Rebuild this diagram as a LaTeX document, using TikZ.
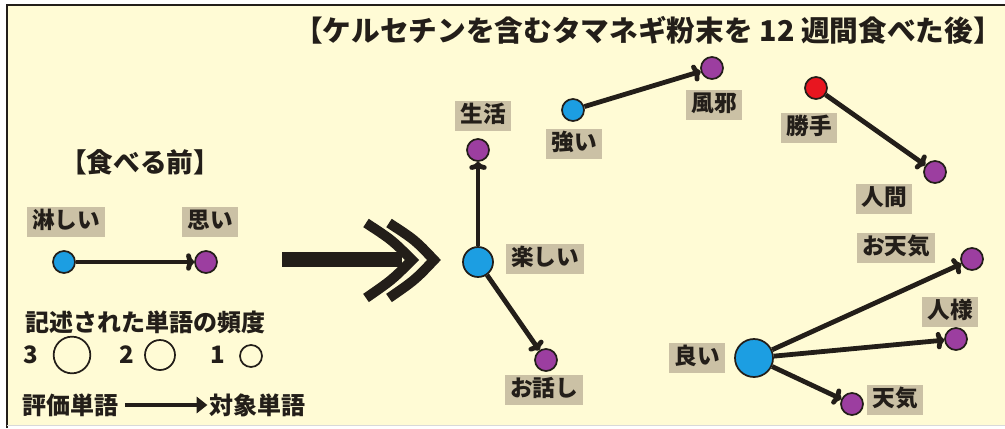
\documentclass[tikz,border=0pt]{standalone}
\usepackage{fontspec}
\setmainfont{Noto Sans CJK JP}
\usetikzlibrary{arrows.meta}
\definecolor{bg}{RGB}{255,251,213}
\definecolor{tagc}{RGB}{203,193,165}
\definecolor{evblue}{RGB}{28,158,226}
\definecolor{tgpurple}{RGB}{156,62,160}
\definecolor{negred}{RGB}{232,22,32}
\definecolor{ink}{RGB}{35,30,25}
\tikzset{
  word/.style={fill=tagc,inner xsep=4pt,inner ysep=3.5pt,text=ink,
    font=\fontsize{17}{17}\selectfont\bfseries,text height=13pt,text depth=3pt},
  plain/.style={text=ink,inner sep=1pt,font=\fontsize{18}{18}\selectfont\bfseries},
  dot/.style={circle,draw=ink,line width=1.3pt,inner sep=0pt},
  f1/.style={dot,minimum size=16.5pt},
  f2/.style={dot,minimum size=22.5pt},
  f3/.style={dot,minimum size=28.5pt},
  link/.style={draw=ink,line width=3.6pt,-{To[length=6pt,width=13pt]}}
}
\begin{document}
\begin{tikzpicture}[x=0.75pt,y=-0.75pt]
\useasboundingbox (0,0) rectangle (1005,428);
\fill[white] (0,0) rectangle (1005,428);
\fill[bg] (7,5) rectangle (1005,425);
\draw[ink,line width=2pt] (7,428)--(7,5)--(1005,5);
\draw[black!15,line width=1pt] (7,425.5)--(1005,425.5);
% title
\node[plain,font=\fontsize{21.5}{21.5}\selectfont\bfseries] (title) at (648,30) {【ケルセチンを含むタマネギ粉末を 12 週間食べた後】};
% before
\node[plain,font=\fontsize{20}{20}\selectfont\bfseries] (before) at (140,162) {【食べる前】};
\node[word] (sabishii) at (66,222) {淋しい};
\node[word] (omoi) at (210,222) {思い};
\node[f1,fill=evblue] (n-sabishii) at (64,262) {};
\node[f1,fill=tgpurple] (n-omoi) at (206,262) {};
\draw[link] (n-sabishii)--(n-omoi);
% legend
\node[plain] (freq) at (145,322) {記述された単語の頻度};
\node[plain] (k3) at (31,355) {3};
\node[dot,minimum size=27.5pt] (c3) at (72,355) {};
\node[plain] (k2) at (127,355) {2};
\node[dot,minimum size=22.5pt] (c2) at (160,355) {};
\node[plain] (k1) at (218,355) {1};
\node[dot,minimum size=16.5pt] (c1) at (251,356) {};
\node[plain] (hyoka) at (70,405) {評価単語};
\node[plain] (taisho) at (257,405) {対象単語};
\draw[ink,line width=3.6pt,shorten <=4pt,-{Triangle[length=8pt,width=12pt]}] (hyoka)--(taisho);
% big arrow
\fill[ink] (282,252) rectangle (402,267);
\draw[ink,line width=7.5pt] (366,223) .. controls (392,240) .. (412,260) .. controls (392,280) .. (366,298);
\draw[ink,line width=7.5pt] (389,223) .. controls (415,240) .. (434,260) .. controls (415,280) .. (389,298);
% after
\node[f2,fill=evblue] (n-tanoshii) at (478,262) {};
\node[word] (tanoshii) at (545,259) {楽しい};
\node[f1,fill=tgpurple] (n-seikatsu) at (478,150) {};
\node[word] (seikatsu) at (483,116) {生活};
\node[f1,fill=tgpurple] (n-ohanashi) at (546,360) {};
\node[word] (ohanashi) at (544,390) {お話し};
\draw[link] (n-tanoshii)--(n-seikatsu);
\draw[link] (n-tanoshii)--(n-ohanashi);
\node[f1,fill=evblue] (n-tsuyoi) at (573,110) {};
\node[word] (tsuyoi) at (574,144) {強い};
\node[f1,fill=tgpurple] (n-kaze) at (712,68) {};
\node[word] (kaze) at (714,105) {風邪};
\draw[link] (n-tsuyoi)--(n-kaze);
\node[f1,fill=negred] (n-katte) at (816,88) {};
\node[word] (katte) at (809,128) {勝手};
\node[f1,fill=tgpurple] (n-ningen) at (935,172) {};
\node[word] (ningen) at (884,199) {人間};
\draw[link] (n-katte)--(n-ningen);
\node[f3,fill=evblue] (n-yoi) at (754,358) {};
\node[word] (yoi) at (697,358) {良い};
\node[f1,fill=tgpurple] (n-otenki) at (972,259) {};
\node[word] (otenki) at (896,248) {お天気};
\node[f1,fill=tgpurple] (n-hitosama) at (956,339) {};
\node[word] (hitosama) at (950,312) {人様};
\node[f1,fill=tgpurple] (n-tenki) at (852,404) {};
\node[word] (tenki) at (895,400) {天気};
\draw[link] (n-yoi)--(n-otenki);
\draw[link] (n-yoi)--(n-hitosama);
\draw[link] (n-yoi)--(n-tenki);
\end{tikzpicture}
\end{document}
